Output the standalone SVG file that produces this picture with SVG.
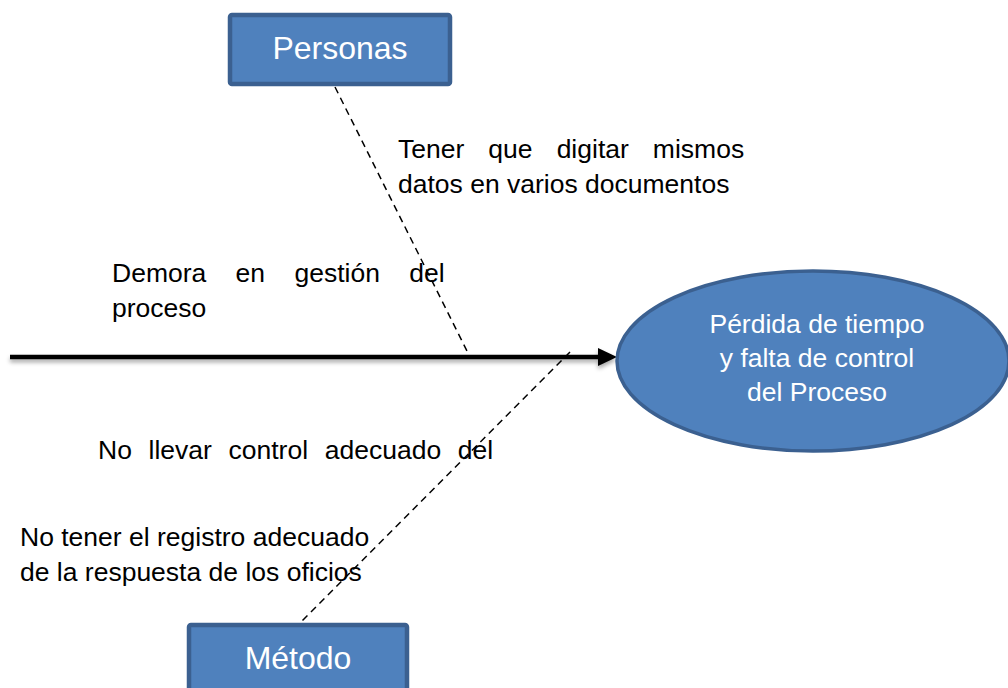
<svg xmlns="http://www.w3.org/2000/svg" width="1008" height="688" viewBox="0 0 1008 688">
<style>
.box{fill:#4f81bd;stroke:#3b6090;stroke-width:4.5}
.lbl{font-family:"Liberation Sans",Arial,sans-serif;font-size:26.5px;fill:#000}
.wl{font-family:"Liberation Sans",Arial,sans-serif;fill:#fff;text-anchor:middle}
.dash{stroke:#000;stroke-width:1.5;stroke-dasharray:7 5;fill:none}
</style>
<defs>
<filter id="sh" x="-5%" y="-50%" width="110%" height="300%">
<feDropShadow dx="0" dy="3" stdDeviation="2" flood-color="#000" flood-opacity="0.35"/>
</filter>
</defs>
<rect width="1008" height="688" fill="#fff"/>
<g id="connectors">
<g filter="url(#sh)">
<line x1="10" y1="357" x2="602" y2="357" stroke="#000" stroke-width="4.5"/>
<polygon points="598,348 617,357 598,366" fill="#000"/>
</g>
<line class="dash" x1="335" y1="87" x2="469" y2="355"/>
<line class="dash" x1="570" y1="352" x2="300" y2="623"/>
</g>
<g id="personas">
<rect class="box" x="230" y="15" width="220" height="69" rx="2"/>
<text class="wl" x="340" y="59" font-size="32">Personas</text>
</g>
<g id="metodo">
<rect class="box" x="189" y="625" width="218" height="80" rx="2"/>
<text class="wl" x="298" y="669" font-size="32">Método</text>
</g>
<g id="efecto">
<ellipse cx="813" cy="361" rx="196" ry="90" fill="#4f81bd" stroke="#3b6090" stroke-width="3.5"/>
<text class="wl" font-size="26.5"><tspan x="817" y="333">Pérdida de tiempo</tspan><tspan x="817" y="367">y falta de control</tspan><tspan x="817" y="401">del Proceso</tspan></text>
</g>
<g id="causa-personas">
<text class="lbl" x="398" y="158" word-spacing="16.7">Tener que digitar mismos</text>
<text class="lbl" x="398" y="193">datos en varios documentos</text>
</g>
<g id="causa-demora">
<text class="lbl" x="112" y="282" word-spacing="22">Demora en gestión del</text>
<text class="lbl" x="112" y="317">proceso</text>
</g>
<g id="causa-metodo">
<text class="lbl" x="98" y="459" word-spacing="9.3">No llevar control adecuado del</text>
<text class="lbl" x="20" y="546">No tener el registro adecuado</text>
<text class="lbl" x="20" y="581">de la respuesta de los oficios</text>
</g>
</svg>
